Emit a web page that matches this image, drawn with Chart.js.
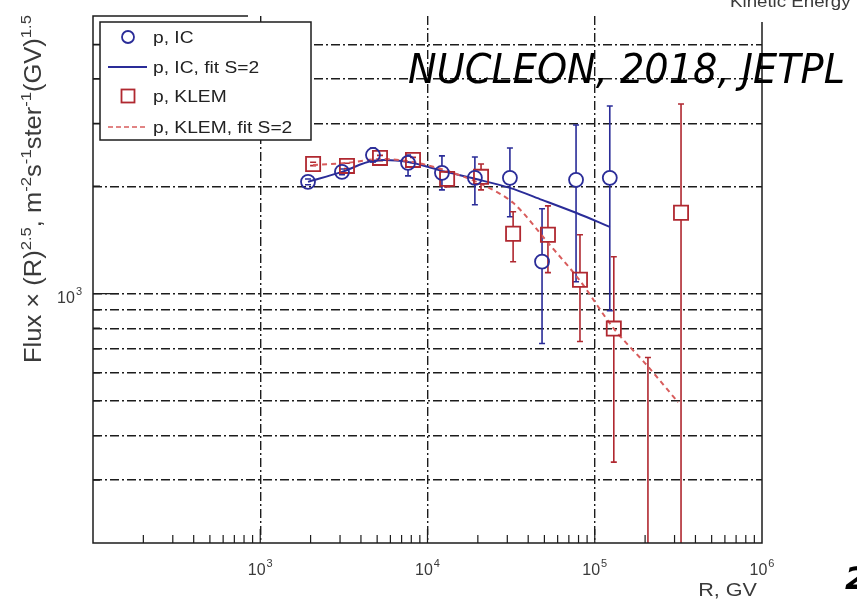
<!DOCTYPE html>
<html>
<head>
<meta charset="utf-8">
<script src="https://cdn.jsdelivr.net/npm/chart.js@4.4.1/dist/chart.umd.min.js"></script>
<style>
  html, body { margin: 0; padding: 0; background: #fff; }
  canvas { display: block; }
</style>
</head>
<body>
<canvas id="flux" width="857" height="604"></canvas>
<script>
// proton spectra, flux x R^2.5 vs rigidity (GV)
const icRigidity = [1930, 3080, 4720, 7650, 12200, 19200, 31100, 48400, 77300, 123000];
const icFlux     = [2057, 2194, 2447, 2324, 2180, 2111, 2111, 1229, 2084, 2111];
const icFluxHigh = [2095, 2235, 2560, 2447, 2432, 2416, 2560, 1729, 2969, 3356];
const icFluxLow  = [2020, 2155, 2340, 2138, 1954, 1774, 1642, 725, 1080, 896];
const icFit      = [2057, 2194, 2356, 2339, 2208, 2098, 1979, 1832, 1685, 1539];

const klemRigidity = [2070, 3300, 5200, 8190, 13100, 20900, 32500, 52500, 81600, 130000, 208000, 328000];
const klemFlux     = [2309, 2280, 2401, 2370, 2097, 2125, 1472, 1462, 1094, 798, 120, 1685];
const klemFluxHigh = [2335, 2320, 2440, 2410, 2200, 2309, 1696, 1762, 1462, 1269, 662, 3399];
const klemFluxLow  = [2285, 2240, 2360, 2330, 1992, 1953, 1229, 1145, 734, 337, 50, 100];
const klemFitRigidity = [2070, 3300, 5200, 8190, 13100, 20900, 32500, 52500, 81600, 130000, 208000, 315000];
const klemFit         = [2295, 2324, 2385, 2339, 2208, 2030, 1797, 1389, 1087, 798, 625, 496];

// axes
const xRange = [1e2, 1e6];
const yRange = [200, 6000];
const xTickValues = [1e3, 1e4, 1e5, 1e6];
const xTickExponents = ['3', '4', '5', '6'];
const yTickValues = [1e3];
const yTickExponents = ['3'];
const xGridValues = [1e3, 1e4, 1e5];
const yGridValues = [300, 400, 500, 600, 700, 800, 900, 1000, 2000, 3000, 4000, 5000];
const xMinorValues = [200, 300, 400, 500, 600, 700, 800, 900, 1000,
  2000, 3000, 4000, 5000, 6000, 7000, 8000, 9000, 10000,
  20000, 30000, 40000, 50000, 60000, 70000, 80000, 90000, 100000,
  200000, 300000, 400000, 500000, 600000, 700000, 800000, 900000];

const yTitle = [['Flux × (R)', 0], ['2.5', 1], [', m', 0], ['-2', 1], ['s', 0], ['-1', 1],
  ['ster', 0], ['-1', 1], ['(GV)', 0], ['1.5', 1]];

const C = {
  blue: '#2a2c98',
  red: '#b02830',
  redFit: '#d85c5c',
  ink: '#1c1c1c',
  text: '#3a3a3a'
};
const SANS = '"Liberation Sans", Arial, sans-serif';

const pairs = (xs, ys) => xs.map((x, i) => ({ x, y: ys[i] }));
const isDecade = v => Math.abs(Math.log10(v) - Math.round(Math.log10(v))) < 1e-9;

function stretchText(ctx, text, x, y, sx, align) {
  const w = ctx.measureText(text).width * sx;
  const x0 = align === 'right' ? x - w : align === 'center' ? x - w / 2 : x;
  ctx.save();
  ctx.translate(x0, y);
  ctx.scale(sx, 1);
  ctx.fillText(text, 0, 0);
  ctx.restore();
  return w;
}

// "10" with a raised exponent, anchored on x
function powerLabel(ctx, exp, x, y, align) {
  ctx.font = '16px ' + SANS;
  const wb = ctx.measureText('10').width;
  ctx.font = '11px ' + SANS;
  const we = ctx.measureText(exp).width;
  const total = wb + we + 1;
  const x0 = align === 'right' ? x - total : x - total / 2;
  ctx.font = '16px ' + SANS;
  ctx.fillText('10', x0, y);
  ctx.font = '11px ' + SANS;
  ctx.fillText(exp, x0 + wb + 1, y - 8);
}

function errorBars(chart, index, low, high, gap) {
  const ds = chart.data.datasets[index];
  const meta = chart.getDatasetMeta(index);
  const ys = chart.scales.y;
  const a = chart.chartArea;
  const ctx = chart.ctx;
  ctx.save();
  ctx.beginPath();
  ctx.rect(a.left, a.top, a.right - a.left, a.bottom - a.top);
  ctx.clip();
  ctx.strokeStyle = ds.borderColor;
  ctx.lineWidth = 1.6;
  meta.data.forEach((pt, i) => {
    const px = pt.x;
    const py = ys.getPixelForValue(ds.data[i].y);
    const top = ys.getPixelForValue(high[i]);
    const bot = ys.getPixelForValue(low[i]);
    ctx.beginPath();
    if (top < py - gap) { ctx.moveTo(px, top); ctx.lineTo(px, py - gap); }
    if (bot > py + gap) { ctx.moveTo(px, py + gap); ctx.lineTo(px, bot); }
    ctx.moveTo(px - 3, top); ctx.lineTo(px + 3, top);
    ctx.moveTo(px - 3, bot); ctx.lineTo(px + 3, bot);
    ctx.stroke();
  });
  ctx.restore();
}

const decorations = {
  id: 'decorations',
  beforeDatasetsDraw(chart) {
    errorBars(chart, 0, icFluxLow, icFluxHigh, 6.5);
    errorBars(chart, 2, klemFluxLow, klemFluxHigh, 7);
  },
  afterDatasetsDraw(chart) {
    const { ctx, chartArea: a, scales: { x, y } } = chart;
    ctx.save();
    ctx.strokeStyle = C.ink;
    ctx.lineWidth = 1.5;
    // frame: the top edge is only drawn above the legend
    ctx.beginPath();
    ctx.moveTo(248, a.top);
    ctx.lineTo(a.left, a.top);
    ctx.lineTo(a.left, a.bottom);
    ctx.lineTo(a.right, a.bottom);
    ctx.lineTo(a.right, a.top + 6);
    ctx.stroke();
    // inward tick marks
    ctx.lineWidth = 1.2;
    ctx.beginPath();
    x.ticks.forEach(t => {
      const px = x.getPixelForValue(t.value);
      const len = isDecade(t.value) ? 14 : 8;
      ctx.moveTo(px, a.bottom);
      ctx.lineTo(px, a.bottom - len);
    });
    y.ticks.forEach(t => {
      const py = y.getPixelForValue(t.value);
      const len = isDecade(t.value) ? 26 : 7;
      ctx.moveTo(a.left, py);
      ctx.lineTo(a.left + len, py);
    });
    ctx.stroke();
    ctx.restore();
  },
  afterDraw(chart) {
    const { ctx, scales: { x, y } } = chart;
    const ds = chart.data.datasets;
    ctx.save();

    // tick labels
    ctx.fillStyle = C.text;
    ctx.textBaseline = 'alphabetic';
    xTickValues.forEach((v, i) => powerLabel(ctx, xTickExponents[i], x.getPixelForValue(v), 575, 'center'));
    yTickValues.forEach((v, i) => powerLabel(ctx, yTickExponents[i], 82, y.getPixelForValue(v) + 9, 'right'));

    // axis titles
    ctx.font = '18px ' + SANS;
    stretchText(ctx, 'R, GV', 757, 596, 1.2, 'right');

    const base = '23px ' + SANS, sup = '15px ' + SANS;
    let len = 0;
    yTitle.forEach(([t, s]) => { ctx.font = s ? sup : base; len += ctx.measureText(t).width; });
    const k = 348 / len;
    ctx.save();
    ctx.translate(41, 189);
    ctx.rotate(-Math.PI / 2);
    ctx.scale(k, 1);
    let cx = -len / 2;
    yTitle.forEach(([t, s]) => {
      ctx.font = s ? sup : base;
      ctx.fillText(t, cx, s ? -10 : 0);
      cx += ctx.measureText(t).width;
    });
    ctx.restore();

    // legend
    ctx.fillStyle = '#fff';
    ctx.fillRect(100, 22, 211, 118);
    ctx.strokeStyle = C.ink;
    ctx.lineWidth = 1.5;
    ctx.strokeRect(100, 22, 211, 118);
    const rows = [37, 67, 96, 127];
    ctx.lineWidth = 1.8;
    ctx.strokeStyle = ds[0].borderColor;
    ctx.beginPath(); ctx.arc(128, rows[0], 6, 0, Math.PI * 2); ctx.stroke();
    ctx.lineWidth = 2;
    ctx.strokeStyle = ds[1].borderColor;
    ctx.beginPath(); ctx.moveTo(108, rows[1]); ctx.lineTo(147, rows[1]); ctx.stroke();
    ctx.lineWidth = 1.8;
    ctx.strokeStyle = ds[2].borderColor;
    ctx.strokeRect(121.5, rows[2] - 6.5, 13, 13);
    ctx.lineWidth = 1.5;
    ctx.strokeStyle = ds[3].borderColor;
    ctx.setLineDash([5, 3]);
    ctx.beginPath(); ctx.moveTo(108, rows[3]); ctx.lineTo(147, rows[3]); ctx.stroke();
    ctx.setLineDash([]);
    ctx.fillStyle = '#222';
    ctx.font = '16px ' + SANS;
    ds.forEach((d, i) => stretchText(ctx, d.label, 153, rows[i] + 6, 1.2, 'left'));

    // annotations
    ctx.fillStyle = C.text;
    ctx.font = '17px ' + SANS;
    stretchText(ctx, 'Kinetic Energy', 730, 7, 1.1, 'left');

    ctx.fillStyle = '#000';
    ctx.font = 'oblique 41px "DejaVu Sans", sans-serif';
    const nw = ctx.measureText('NUCLEON, 2018, JETPL').width;
    stretchText(ctx, 'NUCLEON, 2018, JETPL', 408, 83, 437 / nw, 'left');

    ctx.font = 'bold oblique 32px "DejaVu Sans", sans-serif';
    ctx.fillText('2', 845, 589);

    ctx.restore();
  }
};

new Chart(document.getElementById('flux'), {
  type: 'line',
  data: {
    datasets: [
      {
        label: 'p, IC',
        data: pairs(icRigidity, icFlux),
        showLine: false,
        borderColor: C.blue,
        backgroundColor: 'rgba(0,0,0,0)',
        pointStyle: 'circle',
        pointRadius: 7,
        pointBorderWidth: 1.8,
        order: 0
      },
      {
        label: 'p, IC, fit S=2',
        data: pairs(icRigidity, icFit),
        borderColor: C.blue,
        borderWidth: 2,
        pointRadius: 0,
        tension: 0.3,
        order: 3
      },
      {
        label: 'p, KLEM',
        data: pairs(klemRigidity, klemFlux),
        showLine: false,
        borderColor: C.red,
        backgroundColor: 'rgba(0,0,0,0)',
        pointStyle: 'rect',
        pointRadius: 10,
        pointBorderWidth: 1.8,
        order: 1
      },
      {
        label: 'p, KLEM, fit S=2',
        data: pairs(klemFitRigidity, klemFit),
        borderColor: C.redFit,
        borderWidth: 2,
        borderDash: [5, 4],
        pointRadius: 0,
        tension: 0.3,
        order: 2
      }
    ]
  },
  options: {
    responsive: false,
    animation: false,
    devicePixelRatio: 1,
    layout: { padding: { top: 16, right: 95, left: 0, bottom: 0 } },
    plugins: { legend: { display: false }, tooltip: { enabled: false } },
    scales: {
      x: {
        type: 'logarithmic',
        min: xRange[0],
        max: xRange[1],
        afterBuildTicks: s => { s.ticks = xMinorValues.map(value => ({ value })); },
        afterFit: s => { s.height = 61; },
        ticks: { display: false },
        grid: {
          drawTicks: false,
          lineWidth: 1.4,
          color: c => (c.tick && xGridValues.includes(c.tick.value)) ? C.ink : 'rgba(0,0,0,0)'
        },
        border: { display: false, dash: [9, 3, 2, 3] }
      },
      y: {
        type: 'logarithmic',
        min: yRange[0],
        max: yRange[1],
        afterBuildTicks: s => { s.ticks = yGridValues.map(value => ({ value })); },
        afterFit: s => { s.width = 93; },
        ticks: { display: false },
        grid: { drawTicks: false, lineWidth: 1.4, color: C.ink },
        border: { display: false, dash: [9, 3, 2, 3] }
      }
    }
  },
  plugins: [decorations]
});
</script>
</body>
</html>
